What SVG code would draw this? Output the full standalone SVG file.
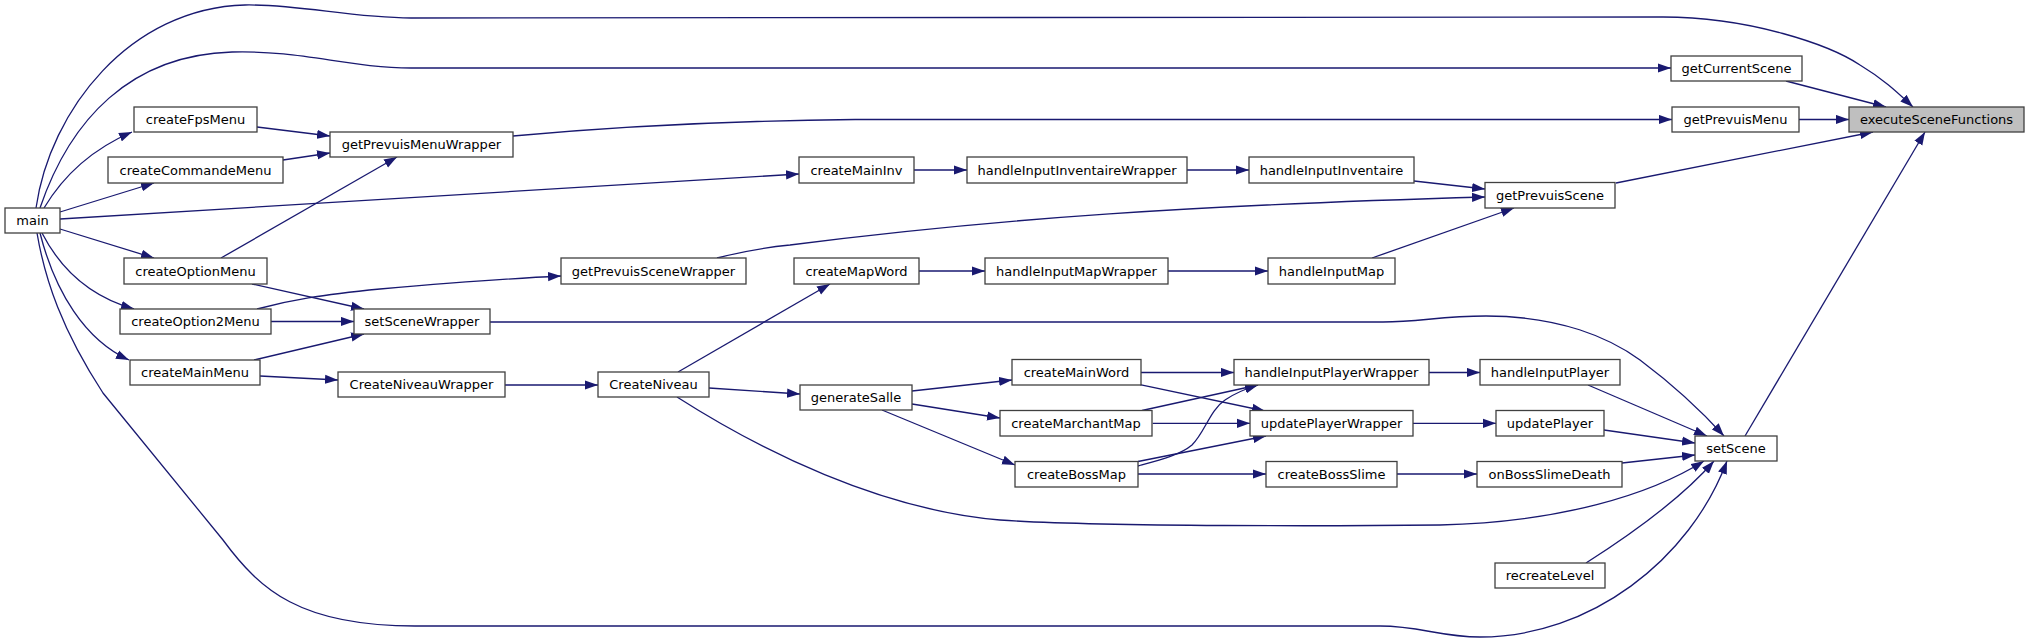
<svg xmlns="http://www.w3.org/2000/svg" width="2029" height="643" viewBox="0 0 2029 643">
<defs>
<marker id="ah" markerUnits="userSpaceOnUse" viewBox="0 0 13 10" markerWidth="13" markerHeight="10" refX="13" refY="5" orient="auto">
<path d="M0,0.4 L13,5 L0,9.6 z" fill="#191970"/>
</marker>
<style>
.n rect{fill:#ffffff;stroke:#404040;stroke-width:1.3}
.n.hl rect{fill:#bfbfbf}
.n text{font-family:"DejaVu Sans",sans-serif;font-size:13px;fill:#000;text-anchor:middle}
#edges path{fill:none;stroke:#191970;stroke-width:1.3;marker-end:url(#ah)}
</style>
</defs>
<rect width="2029" height="643" fill="#ffffff"/>
<g id="edges">
<path d="M36,208 C50,110 130,8 245,5 C300,4 350,18 411,18 L1663,17 C1750,17 1830,45 1860,65 C1885,80 1900,95 1913,107"/>
<path d="M40,208 C70,120 130,55 232,52 C300,50 350,68 411,68 L1671,68"/>
<path d="M1786,81 L1886,107"/>
<path d="M1799,119.5 L1849,119.5"/>
<path d="M1616,183 L1873,132"/>
<path d="M1745,436 L1925,132"/>
<path d="M44,208 C62,178 90,150 132,132"/>
<path d="M60,212 L154,183"/>
<path d="M60,229 L154,258"/>
<path d="M42,233 C60,268 88,296 134,309"/>
<path d="M40,233 C55,292 85,340 129,360"/>
<path d="M37,233 C45,280 62,330 103,393 L223,540 C260,590 300,626 415,626 L1380,626 C1420,626 1440,637 1480,637 C1590,637 1690,560 1727,461"/>
<path d="M60,219 L799,174"/>
<path d="M257,127 L330,136"/>
<path d="M283,160 L330,153"/>
<path d="M221,258 L397,157"/>
<path d="M513,136 C600,128 700,121 855,119.5 L1672,119.5"/>
<path d="M252,284 L364,309"/>
<path d="M257,309 C290,300 320,295 380,289 C450,283 520,278 561,276"/>
<path d="M271,321.5 L354,321.5"/>
<path d="M254,360 L364,334"/>
<path d="M260,376 L338,380"/>
<path d="M505,385 L598,385"/>
<path d="M490,322 L1383,322 C1420,322 1440,316 1486,316 C1560,316 1610,338 1640,360 C1680,390 1705,415 1724,436"/>
<path d="M717,258 C740,252 760,248 790,245 C1000,218 1200,205 1485,197"/>
<path d="M914,170 L967,170"/>
<path d="M1187,170 L1249,170"/>
<path d="M1414,181 L1485,189"/>
<path d="M919,271 L985,271"/>
<path d="M1168,271 L1268,271"/>
<path d="M1372,258 L1514,208"/>
<path d="M678,372 L830,284"/>
<path d="M709,388 L800,394"/>
<path d="M677,397 C760,450 880,510 1000,520 C1100,527 1350,526 1440,525 C1560,522 1650,495 1704,461"/>
<path d="M912,391 L1012,380"/>
<path d="M912,404 L1000,418"/>
<path d="M882,410 L1015,465"/>
<path d="M1141,372.5 L1234,372.5"/>
<path d="M1140,384.7 L1265,411"/>
<path d="M1142,410.5 L1258,385"/>
<path d="M1152.7,423.3 L1250,423.3"/>
<path d="M1138,461.5 L1266,436"/>
<path d="M1138,466 C1160,460 1180,455 1192,445 C1205,432 1210,410 1225,400 C1235,393 1245,389 1258,385"/>
<path d="M1138,474 L1266,474"/>
<path d="M1429,372.5 L1480,372.5"/>
<path d="M1413,423.3 L1496,423.3"/>
<path d="M1397,474 L1477,474"/>
<path d="M1588,385 L1707,436"/>
<path d="M1604,430 L1695,443"/>
<path d="M1622,463 L1695,455"/>
<path d="M1586,563 C1630,535 1680,500 1714,461"/>
</g>
<g id="executeSceneFunctions" class="n hl"><rect x="1849" y="107" width="175" height="25"/><text x="1936.5" y="124">executeSceneFunctions</text></g>
<g id="getCurrentScene" class="n"><rect x="1671" y="56" width="131" height="25"/><text x="1736.5" y="73">getCurrentScene</text></g>
<g id="getPrevuisMenu" class="n"><rect x="1672" y="107" width="127" height="25"/><text x="1735.5" y="124">getPrevuisMenu</text></g>
<g id="getPrevuisScene" class="n"><rect x="1485" y="182.5" width="130" height="25.5"/><text x="1550" y="200">getPrevuisScene</text></g>
<g id="setScene" class="n"><rect x="1695" y="436" width="82" height="25"/><text x="1736" y="453">setScene</text></g>
<g id="main" class="n"><rect x="5" y="208" width="55" height="25"/><text x="32.5" y="225">main</text></g>
<g id="createFpsMenu" class="n"><rect x="134" y="107" width="123" height="25"/><text x="195.5" y="124">createFpsMenu</text></g>
<g id="getPrevuisMenuWrapper" class="n"><rect x="330" y="132" width="183" height="25"/><text x="421.5" y="149">getPrevuisMenuWrapper</text></g>
<g id="createCommandeMenu" class="n"><rect x="108" y="157" width="175" height="26"/><text x="195.5" y="175">createCommandeMenu</text></g>
<g id="createOptionMenu" class="n"><rect x="124" y="258" width="143" height="26"/><text x="195.5" y="276">createOptionMenu</text></g>
<g id="createOption2Menu" class="n"><rect x="120" y="309" width="151" height="25"/><text x="195.5" y="326">createOption2Menu</text></g>
<g id="setSceneWrapper" class="n"><rect x="354" y="309" width="136" height="25"/><text x="422" y="326">setSceneWrapper</text></g>
<g id="createMainMenu" class="n"><rect x="130" y="360" width="130" height="25"/><text x="195" y="377">createMainMenu</text></g>
<g id="createMainInv" class="n"><rect x="799" y="157" width="115" height="26"/><text x="856.5" y="175">createMainInv</text></g>
<g id="handleInputInventaireWrapper" class="n"><rect x="967" y="157" width="220" height="26"/><text x="1077" y="175">handleInputInventaireWrapper</text></g>
<g id="handleInputInventaire" class="n"><rect x="1249" y="157" width="165" height="26"/><text x="1331.5" y="175">handleInputInventaire</text></g>
<g id="getPrevuisSceneWrapper" class="n"><rect x="561" y="258" width="185" height="26"/><text x="653.5" y="276">getPrevuisSceneWrapper</text></g>
<g id="createMapWord" class="n"><rect x="794" y="258" width="125" height="26"/><text x="856.5" y="276">createMapWord</text></g>
<g id="handleInputMapWrapper" class="n"><rect x="985" y="258" width="183" height="26"/><text x="1076.5" y="276">handleInputMapWrapper</text></g>
<g id="handleInputMap" class="n"><rect x="1268" y="258" width="127" height="26"/><text x="1331.5" y="276">handleInputMap</text></g>
<g id="CreateNiveauWrapper" class="n"><rect x="338" y="372" width="167" height="25"/><text x="421.5" y="389">CreateNiveauWrapper</text></g>
<g id="CreateNiveau" class="n"><rect x="598" y="372" width="111" height="25"/><text x="653.5" y="389">CreateNiveau</text></g>
<g id="generateSalle" class="n"><rect x="800" y="385" width="112" height="25"/><text x="856" y="402">generateSalle</text></g>
<g id="createMainWord" class="n"><rect x="1012" y="359.5" width="129" height="25.5"/><text x="1076.5" y="377">createMainWord</text></g>
<g id="handleInputPlayerWrapper" class="n"><rect x="1234" y="359.5" width="195" height="25.5"/><text x="1331.5" y="377">handleInputPlayerWrapper</text></g>
<g id="handleInputPlayer" class="n"><rect x="1480" y="359.5" width="140" height="25.5"/><text x="1550" y="377">handleInputPlayer</text></g>
<g id="createMarchantMap" class="n"><rect x="1000" y="410.5" width="152" height="25.5"/><text x="1076" y="428">createMarchantMap</text></g>
<g id="updatePlayerWrapper" class="n"><rect x="1250" y="410.5" width="163" height="25.5"/><text x="1331.5" y="428">updatePlayerWrapper</text></g>
<g id="updatePlayer" class="n"><rect x="1496" y="410.5" width="108" height="25.5"/><text x="1550" y="428">updatePlayer</text></g>
<g id="createBossMap" class="n"><rect x="1015" y="461.5" width="123" height="25.5"/><text x="1076.5" y="479">createBossMap</text></g>
<g id="createBossSlime" class="n"><rect x="1266" y="461.5" width="131" height="25.5"/><text x="1331.5" y="479">createBossSlime</text></g>
<g id="onBossSlimeDeath" class="n"><rect x="1477" y="461.5" width="145" height="25.5"/><text x="1549.5" y="479">onBossSlimeDeath</text></g>
<g id="recreateLevel" class="n"><rect x="1495" y="563" width="110" height="25"/><text x="1550" y="580">recreateLevel</text></g>
</svg>
